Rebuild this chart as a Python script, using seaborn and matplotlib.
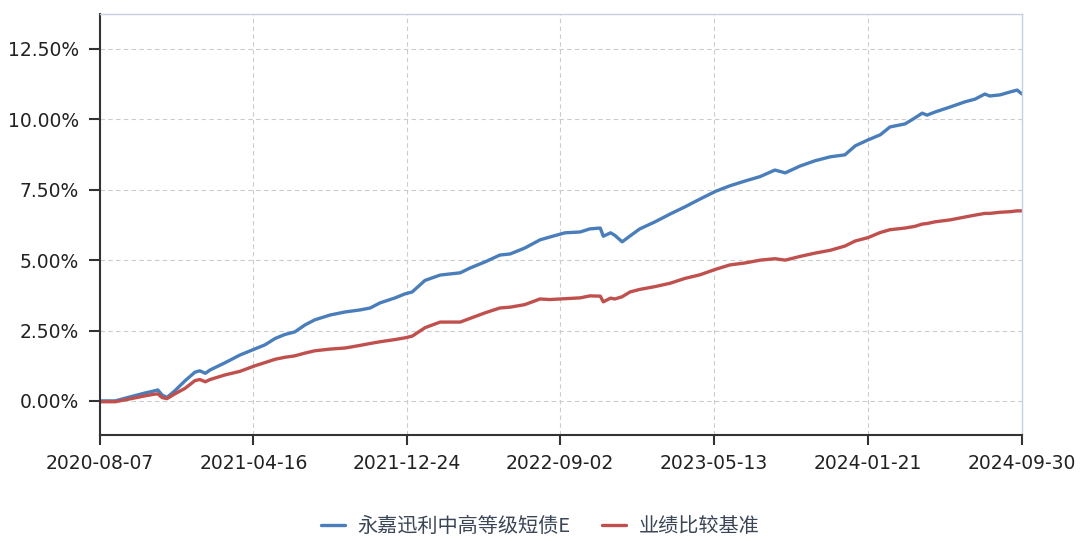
import matplotlib
matplotlib.use("Agg")
import matplotlib.pyplot as plt
import matplotlib.dates as mdates
from matplotlib.ticker import FuncFormatter
import pandas as pd
import seaborn as sns

# 日期与两条序列（累计收益率, %）
dates = [
    "2020-08-07", "2020-09-01", "2020-09-25", "2020-10-20", "2020-11-05", "2020-11-10",
    "2020-11-17", "2020-11-25", "2020-12-08", "2020-12-25", "2021-01-10", "2021-01-18",
    "2021-01-27", "2021-02-04", "2021-02-28", "2021-03-25", "2021-04-19", "2021-05-05",
    "2021-05-22", "2021-06-07", "2021-06-23", "2021-07-10", "2021-07-26", "2021-08-20",
    "2021-09-14", "2021-10-08", "2021-10-25", "2021-11-10", "2021-12-05", "2021-12-21",
    "2022-01-02", "2022-01-23", "2022-02-17", "2022-03-22", "2022-04-07", "2022-05-02",
    "2022-05-26", "2022-06-12", "2022-07-06", "2022-07-31", "2022-08-16", "2022-09-10",
    "2022-10-05", "2022-10-21", "2022-11-07", "2022-11-12", "2022-11-24", "2022-12-01",
    "2022-12-13", "2022-12-26", "2023-01-11", "2023-02-05", "2023-03-02", "2023-03-26",
    "2023-04-20", "2023-05-15", "2023-06-08", "2023-07-03", "2023-07-28", "2023-08-21",
    "2023-09-07", "2023-10-01", "2023-10-26", "2023-11-20", "2023-12-14", "2023-12-31",
    "2024-01-21", "2024-02-10", "2024-02-26", "2024-03-22", "2024-04-07", "2024-04-19",
    "2024-04-27", "2024-05-10", "2024-06-04", "2024-06-28", "2024-07-15", "2024-07-31",
    "2024-08-08", "2024-08-25", "2024-09-10", "2024-09-22", "2024-09-30",
]
fund = [
    0.00, 0.00, 0.14, 0.28, 0.36, 0.39, 0.21, 0.12, 0.36, 0.72, 1.02, 1.07,
    0.98, 1.10, 1.35, 1.63, 1.85, 1.99, 2.22, 2.36, 2.45, 2.70, 2.88, 3.05,
    3.16, 3.23, 3.30, 3.48, 3.66, 3.80, 3.87, 4.28, 4.47, 4.55, 4.72, 4.94,
    5.18, 5.22, 5.43, 5.72, 5.82, 5.97, 6.00, 6.11, 6.14, 5.85, 5.97, 5.88,
    5.65, 5.86, 6.11, 6.36, 6.64, 6.89, 7.17, 7.44, 7.64, 7.81, 7.97, 8.20,
    8.10, 8.34, 8.53, 8.67, 8.74, 9.06, 9.27, 9.45, 9.73, 9.84, 10.05, 10.22,
    10.15, 10.26, 10.44, 10.62, 10.72, 10.90, 10.83, 10.87, 10.97, 11.04, 10.90,
]
benchmark = [
    -0.03, -0.03, 0.07, 0.18, 0.24, 0.25, 0.12, 0.08, 0.25, 0.45, 0.72, 0.76,
    0.68, 0.76, 0.92, 1.05, 1.25, 1.36, 1.48, 1.55, 1.60, 1.70, 1.78, 1.84,
    1.88, 1.97, 2.04, 2.10, 2.18, 2.24, 2.30, 2.60, 2.80, 2.80, 2.93, 3.13,
    3.30, 3.33, 3.42, 3.62, 3.60, 3.63, 3.66, 3.73, 3.72, 3.52, 3.65, 3.62,
    3.70, 3.87, 3.96, 4.06, 4.18, 4.35, 4.48, 4.67, 4.83, 4.90, 5.00, 5.05,
    5.00, 5.13, 5.25, 5.35, 5.50, 5.68, 5.80, 5.98, 6.08, 6.14, 6.20, 6.28,
    6.30, 6.36, 6.43, 6.53, 6.60, 6.66, 6.66, 6.70, 6.72, 6.75, 6.75,
]
series_names = ["永嘉迅利中高等级短债E", "业绩比较基准"]
x_ticks = ["2020-08-07", "2021-04-16", "2021-12-24", "2022-09-02",
           "2023-05-13", "2024-01-21", "2024-09-30"]
y_ticks = [0.0, 2.5, 5.0, 7.5, 10.0, 12.5]

df = pd.DataFrame({
    "date": pd.to_datetime(dates * 2),
    "value": fund + benchmark,
    "series": [series_names[0]] * len(dates) + [series_names[1]] * len(dates),
})

sns.set_theme(style="white")
plt.rcParams['font.family'] = ['DejaVu Sans', 'Noto Sans CJK SC']

fig = plt.figure(figsize=(10.8, 5.41), dpi=100)
ax = fig.add_axes([0.0926, 0.196, 0.8537, 0.778])

sns.lineplot(data=df, x="date", y="value", hue="series", ax=ax,
             palette=["#4a7ebb", "#c0504d"], linewidth=2.4, legend=False)

ax.set_xlim(pd.Timestamp(x_ticks[0]), pd.Timestamp(x_ticks[-1]))
ax.set_ylim(-1.21, 13.74)
ax.set_xticks(pd.to_datetime(x_ticks))
ax.xaxis.set_major_formatter(mdates.DateFormatter("%Y-%m-%d"))
ax.set_yticks(y_ticks)
ax.yaxis.set_major_formatter(FuncFormatter(lambda v, p: f"{v:.2f}%"))
ax.set_xlabel("")
ax.set_ylabel("")

ax.grid(True, color="#cccccc", linestyle=(0, (4, 3)), linewidth=0.8)
for side in ["left", "bottom"]:
    ax.spines[side].set_color("#333333")
    ax.spines[side].set_linewidth(1.5)
for side in ["top", "right"]:
    ax.spines[side].set_color("#c5d0e0")
    ax.spines[side].set_linewidth(1.0)

ax.tick_params(axis="both", colors="#333333", labelsize=13.5, labelcolor="#222222")
ax.tick_params(axis="y", length=8, width=1.5, direction="out", left=True, pad=7)
ax.tick_params(axis="x", length=7, width=1.5, direction="out", bottom=True, pad=7)

# 图例放在底部居中
handles = [plt.Line2D([], [], color=c, linewidth=2.4) for c in ["#4a7ebb", "#c0504d"]]
leg = fig.legend(handles, series_names, loc="center", bbox_to_anchor=(0.5, 0.027),
                 ncol=2, frameon=False, handlelength=1.2, handletextpad=0.6,
                 columnspacing=1.6, labelcolor="#3a4556",
                 prop={"family": ["Noto Sans CJK SC", "DejaVu Sans"], "size": 14.5})

fig.savefig("out.png", dpi=100)
